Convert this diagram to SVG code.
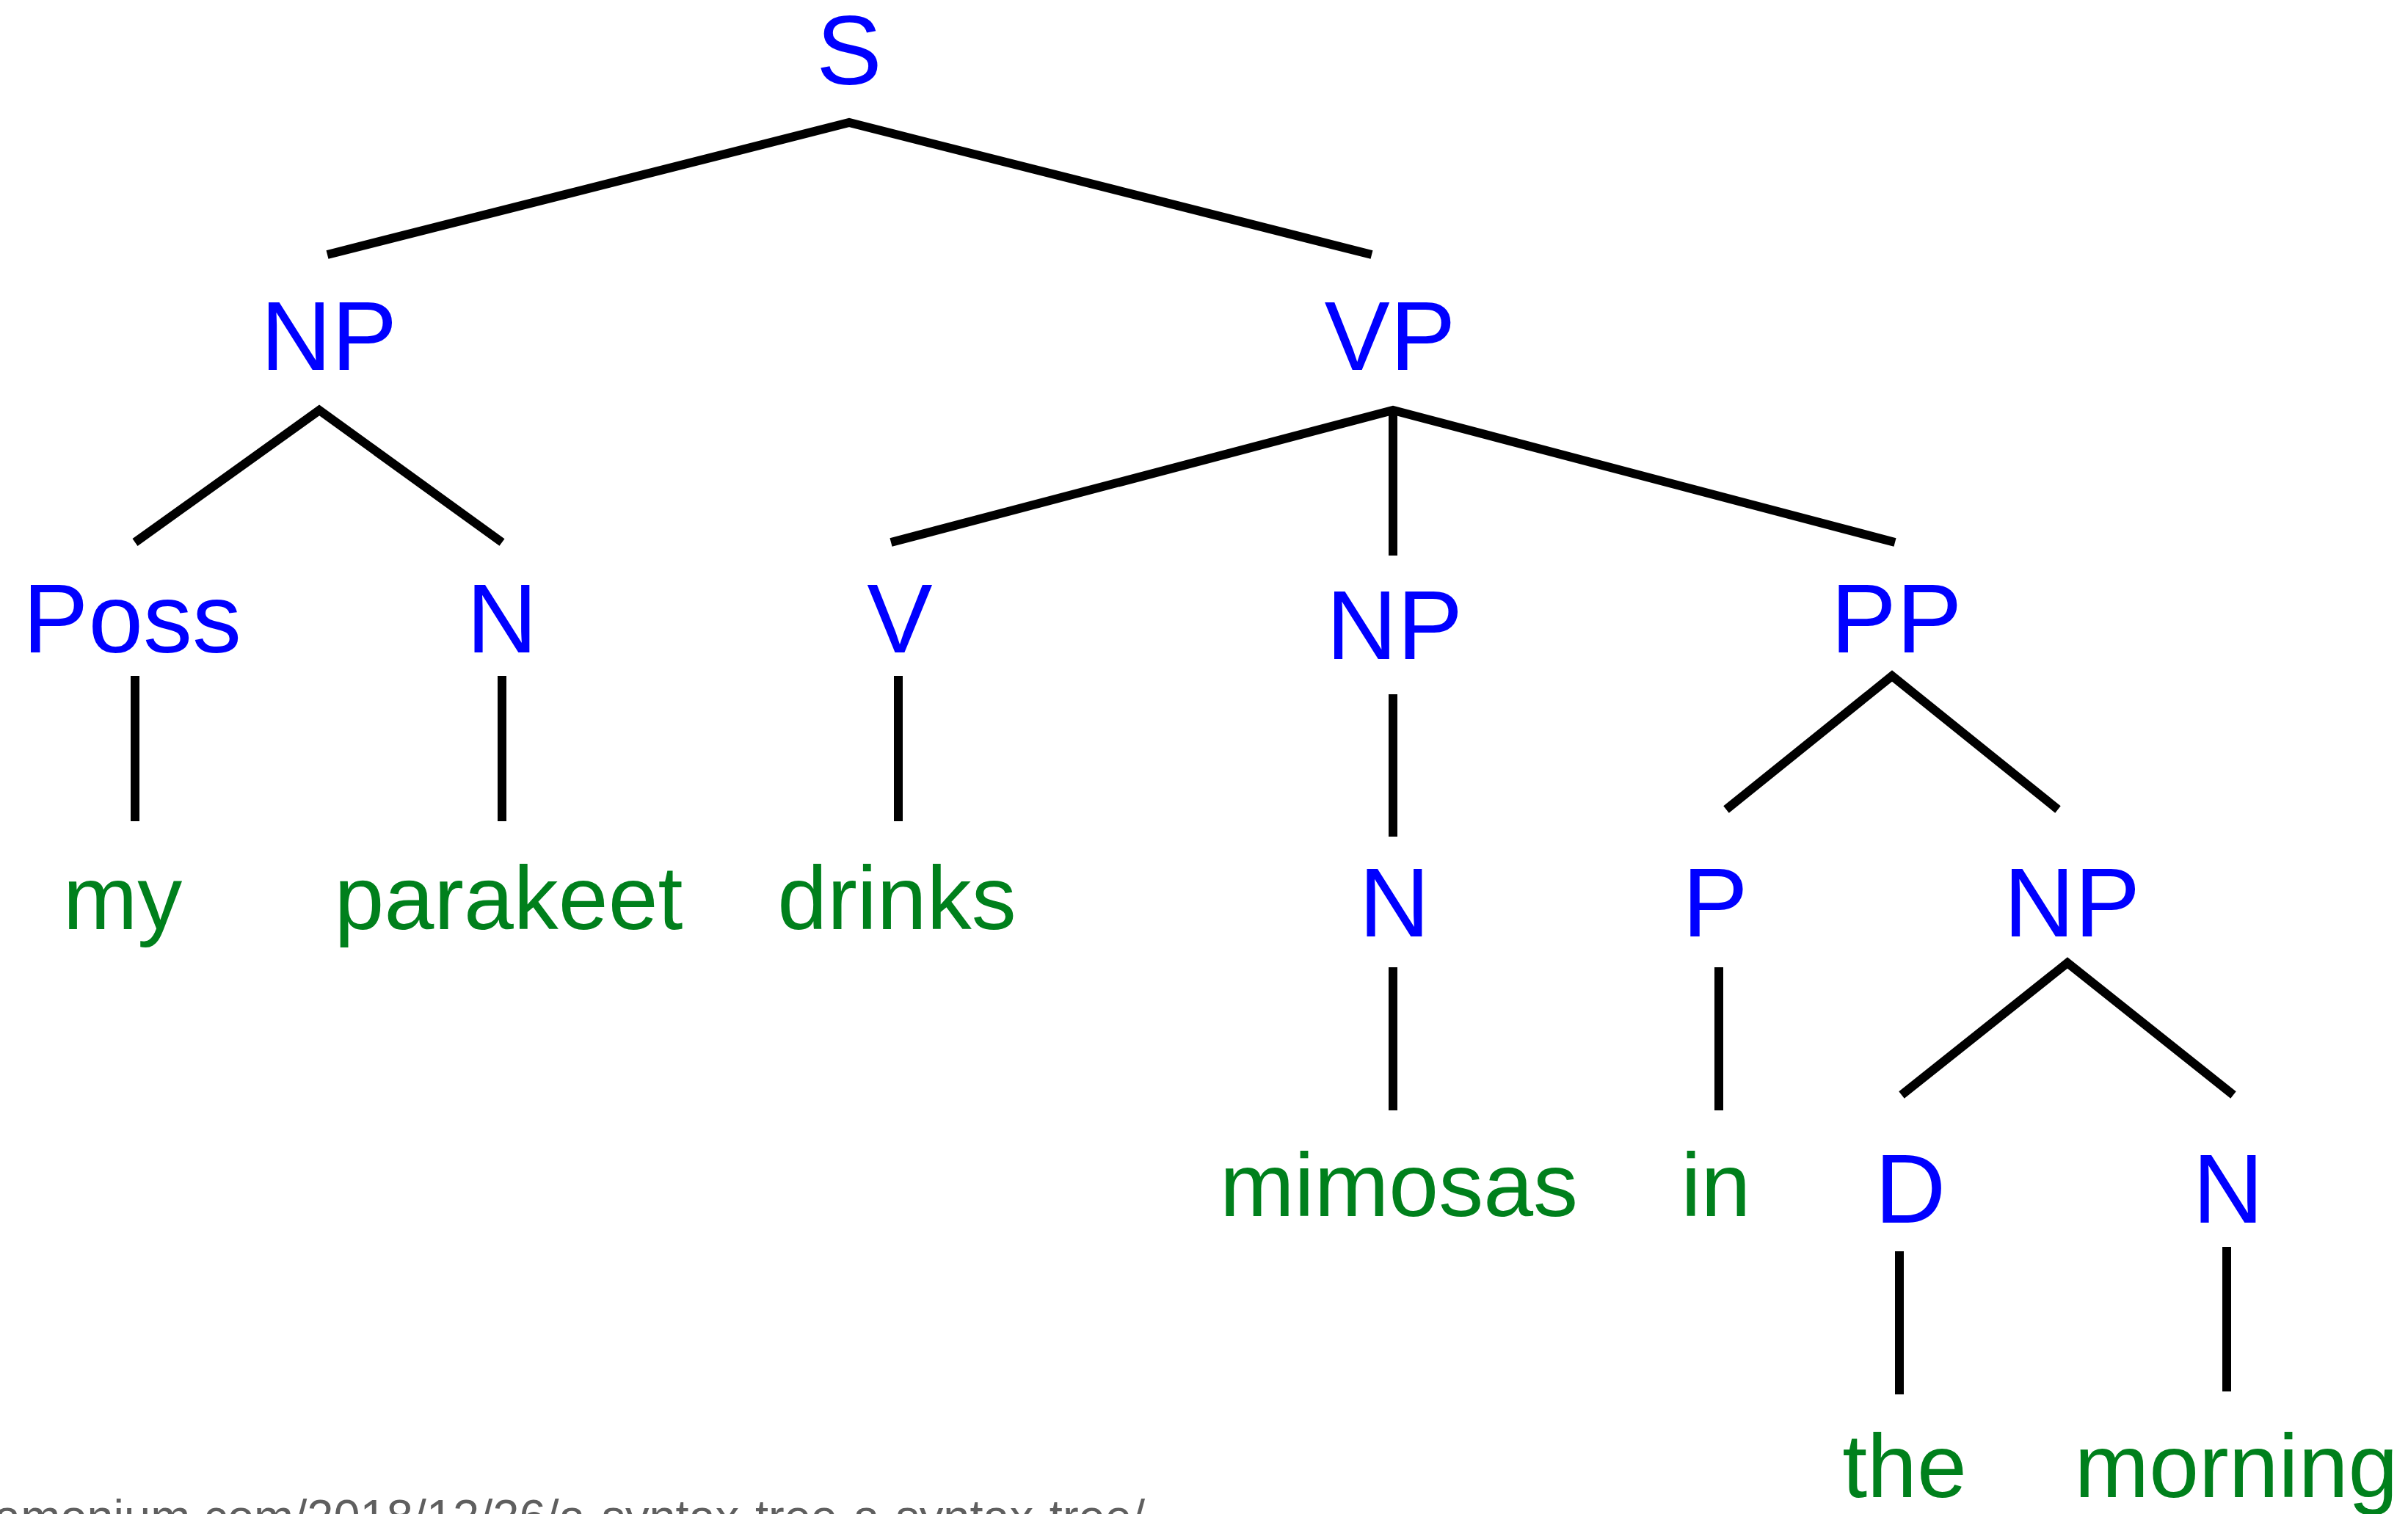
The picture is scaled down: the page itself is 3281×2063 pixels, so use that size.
<svg xmlns="http://www.w3.org/2000/svg" width="3281" height="2063" viewBox="0 0 3281 2063">
<style>
.cat{font-family:"Liberation Sans",Arial,Helvetica,sans-serif;font-size:134px;fill:#0000ff;text-anchor:middle}
.word{font-family:"Liberation Sans",Arial,Helvetica,sans-serif;font-size:122px;fill:#00801c;text-anchor:middle}
.src{font-family:"Liberation Sans",Arial,Helvetica,sans-serif;font-size:65px;fill:#5f5f5f}
.edges line,.edges polyline{stroke:#000;stroke-width:12;fill:none;stroke-linecap:butt;stroke-linejoin:miter}
</style>
<rect width="3281" height="2063" fill="#fff"/>
<g class="edges" id="connectors">
<polyline points="446,347 1157,167 1869,347"/>
<polyline points="184,739 435,559 684,739"/>
<polyline points="1214,739 1898,559 2582,739"/>
<line x1="1898" y1="559" x2="1898" y2="757"/>
<line x1="184" y1="921" x2="184" y2="1119"/>
<line x1="684" y1="921" x2="684" y2="1119"/>
<line x1="1224" y1="921" x2="1224" y2="1119"/>
<line x1="1898" y1="946" x2="1898" y2="1140"/>
<polyline points="2352,1103 2578,921 2804,1103"/>
<line x1="1898" y1="1318" x2="1898" y2="1513"/>
<line x1="2342" y1="1318" x2="2342" y2="1513"/>
<polyline points="2591,1492 2817,1312 3043,1492"/>
<line x1="2588" y1="1705" x2="2588" y2="1900"/>
<line x1="3034" y1="1699" x2="3034" y2="1896"/>
</g>
<g id="n-S"><text class="cat" x="1157" y="115">S</text></g>
<g id="n-NP1"><text class="cat" x="448" y="504">NP</text></g>
<g id="n-VP"><text class="cat" x="1894" y="504">VP</text></g>
<g id="n-Poss"><text class="cat" x="180" y="889">Poss</text></g>
<g id="n-N1"><text class="cat" x="684" y="889">N</text></g>
<g id="n-V"><text class="cat" x="1226" y="889">V</text></g>
<g id="n-NP2"><text class="cat" x="1900" y="898">NP</text></g>
<g id="n-PP"><text class="cat" x="2584" y="889">PP</text></g>
<g id="n-N2"><text class="cat" x="1900" y="1276">N</text></g>
<g id="n-P"><text class="cat" x="2337" y="1276">P</text></g>
<g id="n-NP3"><text class="cat" x="2823" y="1276">NP</text></g>
<g id="n-D"><text class="cat" x="2603" y="1666">D</text></g>
<g id="n-N3"><text class="cat" x="3036" y="1666">N</text></g>
<g id="w-my"><text class="word" x="167" y="1266">my</text></g>
<g id="w-parakeet"><text class="word" x="693" y="1266">parakeet</text></g>
<g id="w-drinks"><text class="word" x="1222" y="1266">drinks</text></g>
<g id="w-mimosas"><text class="word" x="1906" y="1657">mimosas</text></g>
<g id="w-in"><text class="word" x="2338" y="1657">in</text></g>
<g id="w-the"><text class="word" x="2595" y="2040">the</text></g>
<g id="w-morning"><text class="word" x="3047" y="2040">morning</text></g>
<text class="src" x="-8" y="2089">amonium.com/2018/12/26/a-syntax-tree-a-syntax-tree/</text>
</svg>
